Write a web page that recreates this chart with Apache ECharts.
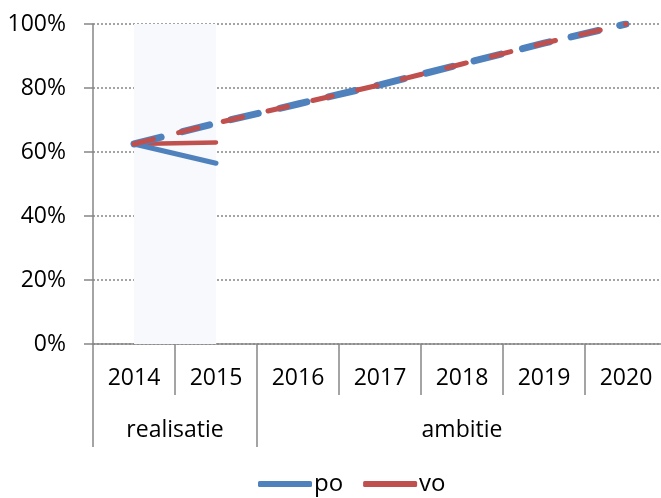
<!DOCTYPE html>
<html>
<head>
<meta charset="utf-8">
<script src="https://cdn.jsdelivr.net/npm/echarts@6/dist/echarts.min.js"></script>
<style>
  html, body { margin: 0; padding: 0; background: #fff; }
  #chart { width: 661px; height: 498px; }
</style>
</head>
<body>
<div id="chart"></div>
<script>
// jaren en groepen
const years = ['2014', '2015', '2016', '2017', '2018', '2019', '2020'];
const groups = ['realisatie', 'ambitie'];
const groupBounds = [0, 2, 7];
const groupCenters = [1, 4.5];

// realisatie (in %)
const poActual = [62.5, 56.5, null, null, null, null, null];
const voActual = [62.5, 63, null, null, null, null, null];
// ambitie (in %)
const poAmbitie = [62.5, 69, 75, 81, 87.5, 94, 100];
const voAmbitie = [62.5, 69, 75, 81, 87.5, 94, 100];

const blue = '#4F81BD';
const red = '#C0504D';
const gray = '#868686';
const font = '"Open Sans", sans-serif';

const chart = echarts.init(document.getElementById('chart'));

chart.setOption({
  animation: false,
  grid: {
    left: 93,
    top: 24,
    width: 574,
    height: 320,
    containLabel: false,
    outerBoundsMode: 'none'
  },
  legend: {
    data: ['po', 'vo'],
    bottom: -3,
    left: 253,
    icon: 'roundRect',
    itemWidth: 54,
    itemHeight: 6,
    itemGap: 20,
    textStyle: { fontFamily: font, fontSize: 24, color: '#000', padding: [0, 0, 0, -3] }
  },
  xAxis: [
    {
      type: 'category',
      data: years,
      boundaryGap: true,
      axisLine: { show: true, lineStyle: { color: gray, width: 1.5 } },
      axisTick: { show: true, interval: 0, length: 51, lineStyle: { color: gray, width: 1.5 } },
      axisLabel: { margin: 23, interval: 0, fontFamily: font, fontSize: 23, color: '#000' }
    },
    {
      type: 'value',
      min: 0,
      max: 7,
      position: 'bottom',
      axisLine: { show: false },
      splitLine: { show: false },
      axisTick: {
        show: true,
        length: 103,
        customValues: groupBounds,
        lineStyle: { color: gray, width: 1.5 }
      },
      axisLabel: {
        margin: 75,
        customValues: groupCenters,
        fontFamily: font,
        fontSize: 23,
        color: '#000',
        formatter: function (v) {
          return groups[groupCenters.indexOf(v)] || '';
        }
      }
    }
  ],
  yAxis: {
    type: 'value',
    min: 0,
    max: 100,
    interval: 20,
    axisLine: { show: true, lineStyle: { color: gray, width: 1.5 } },
    axisTick: { show: true, length: 9, lineStyle: { color: gray, width: 1.5 } },
    axisLabel: {
      margin: 27,
      fontFamily: font,
      fontSize: 23,
      color: '#000',
      formatter: '{value}%'
    },
    splitLine: { lineStyle: { color: gray, width: 1.5, type: [2, 2] } }
  },
  series: [
    {
      name: 'po',
      type: 'line',
      data: poActual,
      symbol: 'none',
      color: blue,
      lineStyle: { width: 5, cap: 'round' },
      z: 3,
      markArea: {
        silent: true,
        itemStyle: { color: '#F7F9FC' },
        data: [[{ xAxis: '2014' }, { xAxis: '2015' }]]
      }
    },
    {
      name: 'vo',
      type: 'line',
      data: voActual,
      symbol: 'none',
      color: red,
      lineStyle: { width: 4.5, cap: 'round' },
      z: 2
    },
    {
      name: 'po ambitie',
      type: 'line',
      data: poAmbitie,
      symbol: 'none',
      color: blue,
      lineStyle: { width: 7, cap: 'round', type: [28, 22] },
      z: 4
    },
    {
      name: 'vo ambitie',
      type: 'line',
      data: voAmbitie,
      symbol: 'none',
      color: red,
      lineStyle: { width: 5, cap: 'round', type: [20, 26] },
      z: 5
    }
  ]
});
</script>
</body>
</html>
